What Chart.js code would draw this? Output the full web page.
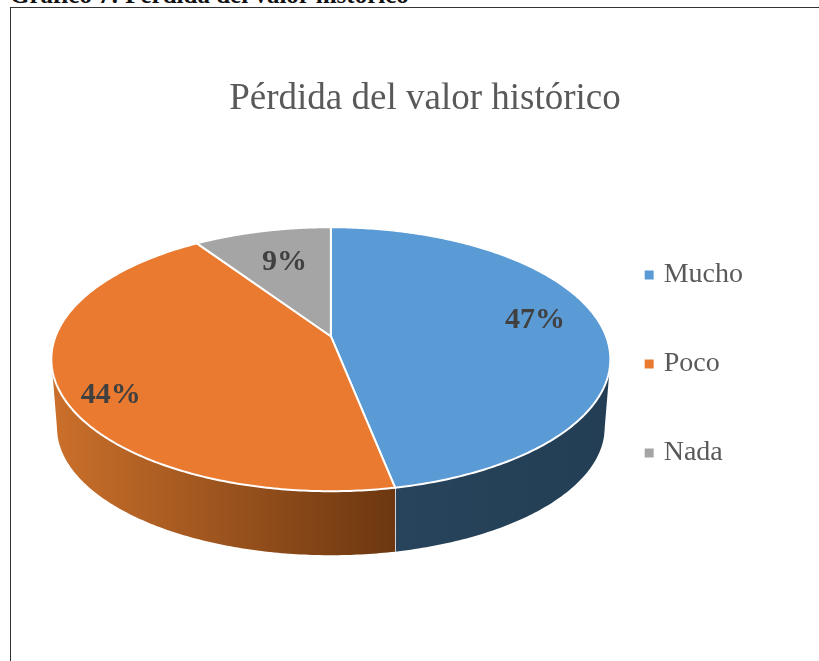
<!DOCTYPE html>
<html lang="es">
<head>
<meta charset="utf-8">
<title>Pérdida del valor histórico</title>
<script src="https://cdn.jsdelivr.net/npm/chart.js@4"></script>
<style>
html,body{margin:0;padding:0;background:#fff;width:819px;height:661px;overflow:hidden;}
#caption{position:absolute;left:10px;top:-19px;font:bold 25px "Liberation Serif",serif;color:#111;white-space:nowrap;}
#frame{position:absolute;left:10px;top:7px;width:808px;height:660px;border-left:1px solid #333;border-top:1px solid #333;}
#pie{position:absolute;left:11px;top:8px;}
</style>
</head>
<body>
<div id="caption">Gráfico 7: Pérdida del valor histórico</div>
<div id="frame"></div>
<canvas id="pie" width="852" height="653"></canvas>
<script>
const chartTitle = "Pérdida del valor histórico";
const categories = ["Mucho", "Poco", "Nada"];
const shares = [46.9, 43.7, 9.4];
const sliceColors = ["#5B9BD5", "#E97A30", "#A5A5A5"];
const wallColors = [["#27445C", "#233E54"], ["#CB702B", "#6C3710"], ["#636363", "#636363"]];
const labelRadius = [0.77, 0.853, 0.675];
const labelTurnDeg = [-4.3, -7.2, 0.8];

const TILT = 132 / 279.5;      // ellipse height / width of the top face
const PERSPECTIVE = -0.174;    // how far the pie centre is pushed back
const LOWER_W = 0.98, LOWER_H = 0.458, DEPTH = 68 / 279.5;
const Y_SHIFT = -3;

function project(arc, angle, r) {
  const u = r * Math.cos(angle), v = r * Math.sin(angle), a = PERSPECTIVE;
  const d = 1 + a * v;
  const X = u * Math.sqrt(1 - a * a) / d, Y = (v + a) / d;
  return {x: arc.x + X * arc.outerRadius, y: arc.y + Y_SHIFT + Y * arc.outerRadius * TILT};
}

const pie3d = {
  id: "pie3d",
  afterLayout(chart) {
    // the legend's rows sit lower, and the title further right, than their defaults
    chart.legend.top += 62;
    chart.legend.bottom += 62;
    chart.titleBlock.left += 11.5;
    chart.titleBlock.right += 11.5;
  },
  beforeDatasetDraw(chart, args) {
    const ctx = chart.ctx, arcs = args.meta.data, STEPS = 240;
    ctx.save();
    // side wall
    arcs.forEach((arc, i) => {
      const R = arc.outerRadius, cy = arc.y + Y_SHIFT;
      const top = [];
      for (let s = 0; s <= STEPS; s++) {
        const t = arc.startAngle + (arc.endAngle - arc.startAngle) * s / STEPS;
        const p = project(arc, t, 1);
        if (p.y >= cy - 0.01) top.push(p);
      }
      if (top.length < 2) return;
      const lower = top.map(p => {
        const c = Math.max(-1, Math.min(1, (p.x - arc.x) / (R * LOWER_W)));
        return {x: arc.x + c * R * LOWER_W,
                y: cy + DEPTH * R + Math.sqrt(1 - c * c) * R * LOWER_H};
      }).reverse();
      const xs = top.map(p => p.x);
      const g = ctx.createLinearGradient(Math.min(...xs), 0, Math.max(...xs), 0);
      g.addColorStop(0, wallColors[i][0]);
      g.addColorStop(1, wallColors[i][1]);
      ctx.beginPath();
      top.concat(lower).forEach((p, k) => k ? ctx.lineTo(p.x, p.y) : ctx.moveTo(p.x, p.y));
      ctx.closePath();
      ctx.fillStyle = g;
      ctx.fill();
      // white seam where two visible walls meet
      if (i === 0) {
        const last = top[top.length - 1], low = lower[0];
        ctx.beginPath();
        ctx.moveTo(last.x, last.y);
        ctx.lineTo(low.x, low.y);
        ctx.strokeStyle = "#FFFFFF";
        ctx.lineWidth = 1.5;
        ctx.stroke();
      }
    });
    // top face
    arcs.forEach(arc => {
      ctx.beginPath();
      const apex = project(arc, 0, 0);
      ctx.moveTo(apex.x, apex.y);
      for (let s = 0; s <= STEPS; s++) {
        const t = arc.startAngle + (arc.endAngle - arc.startAngle) * s / STEPS;
        const p = project(arc, t, 1);
        ctx.lineTo(p.x, p.y);
      }
      ctx.closePath();
      ctx.fillStyle = arc.options.backgroundColor;
      ctx.fill();
      ctx.lineJoin = "round";
      ctx.lineWidth = 2;
      ctx.strokeStyle = "#FFFFFF";
      ctx.stroke();
    });
    // percentage labels
    const total = shares.reduce((a, b) => a + b, 0);
    ctx.font = "bold 30px 'Liberation Serif', serif";
    ctx.fillStyle = "#404040";
    ctx.textAlign = "center";
    ctx.textBaseline = "middle";
    arcs.forEach((arc, i) => {
      const mid = (arc.startAngle + arc.endAngle) / 2 + labelTurnDeg[i] * Math.PI / 180;
      const p = project(arc, mid, labelRadius[i]);
      ctx.fillText(Math.round(shares[i] / total * 100) + "%", p.x, p.y + 0.5);
    });
    ctx.restore();
    return false;
  }
};

new Chart(document.getElementById("pie"), {
  type: "pie",
  data: {
    labels: categories,
    datasets: [{data: shares, backgroundColor: sliceColors, borderColor: "#FFFFFF", borderWidth: 2}]
  },
  plugins: [pie3d],
  options: {
    responsive: false,
    animation: false,
    radius: 279.5,
    layout: {padding: {left: 63, right: 110, top: 0, bottom: 65}},
    plugins: {
      tooltip: {enabled: false},
      title: {
        display: true,
        text: chartTitle,
        color: "#595959",
        font: {family: "'Liberation Serif', serif", size: 37, weight: "normal", lineHeight: 1.2},
        padding: {top: 69, bottom: 7}
      },
      legend: {
        display: true,
        position: "right",
        align: "center",
        labels: {
          color: "#595959",
          font: {family: "'Liberation Serif', serif", size: 28},
          boxWidth: 1,
          boxHeight: 1,
          padding: 61,
          generateLabels: chart => categories.map((text, i) => ({
            text, index: i,
            fillStyle: sliceColors[i],
            strokeStyle: sliceColors[i],
            lineWidth: 8,
            fontColor: "#595959"
          }))
        }
      }
    }
  }
});
</script>
</body>
</html>
